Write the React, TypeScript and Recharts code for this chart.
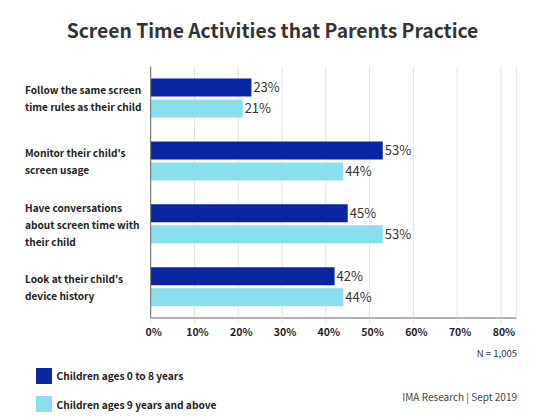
import React from "react";
import {
  BarChart,
  Bar,
  XAxis,
  YAxis,
  CartesianGrid,
  LabelList,
} from "recharts";

const categories: string[][] = [
  ["Follow the same screen", "time rules as their child"],
  ["Monitor their child's", "screen usage"],
  ["Have conversations", "about screen time with", "their child"],
  ["Look at their child's", "device history"],
];
const young: number[] = [23, 53, 45, 42];
const older: number[] = [21, 44, 53, 44];
const xTicks: number[] = [0, 10, 20, 30, 40, 50, 60, 70, 80];
const seriesNames = ["Children ages 0 to 8 years", "Children ages 9 years and above"];

const DARK = "#0a25a1";
const LIGHT = "#8adfee";
const FONT = "'Noto Sans CJK JP', 'Noto Sans', sans-serif";

const data = categories.map((lines, i) => ({
  name: lines.join("\n"),
  young: young[i],
  older: older[i],
}));

const CategoryTick = (props: any) => {
  const { y, payload } = props;
  const lines: string[] = String(payload.value).split("\n");
  const lh = 17;
  const start = y - ((lines.length - 1) * lh) / 2;
  return (
    <text
      x={25}
      y={start}
      fill="#222"
      fontSize={10.1}
      fontWeight={700}
      fontFamily={FONT}
      dominantBaseline="central"
    >
      {lines.map((l, i) => (
        <tspan key={i} x={25} y={start + i * lh}>
          {l}
        </tspan>
      ))}
    </text>
  );
};

export default function App() {
  return (
    <div
      style={{
        position: "absolute",
        left: 0,
        top: 0,
        width: 545,
        height: 419,
        background: "#fff",
        fontFamily: FONT,
      }}
    >
      <div
        style={{
          position: "absolute",
          top: 16,
          width: 545,
          textAlign: "center",
          fontSize: 19.3,
          fontWeight: 700,
          color: "#333",
        }}
      >
        Screen Time Activities that Parents Practice
      </div>
      <BarChart
        width={545}
        height={419}
        data={data}
        layout="vertical"
        margin={{ top: 66.5, right: 28.7, bottom: 71, left: 0 }}
        barCategoryGap={12}
        barGap={3}
      >
        <CartesianGrid horizontal={false} stroke="#e4e4e4" />
        <XAxis
          type="number"
          domain={[0, 83.5]}
          ticks={xTicks}
          tickFormatter={(v) => `${v}%`}
          height={30}
          axisLine={{ stroke: "#666" }}
          tickLine={{ stroke: "#ddd" }}
          tickSize={5}
          tickMargin={6}
          tick={{ fill: "#222", fontSize: 10.5, fontWeight: 700, fontFamily: FONT, dx: 3 }}
          allowDataOverflow
        />
        <YAxis
          yAxisId="a0"
          type="number"
          domain={[0, 4]}
          ticks={[0, 1, 2, 3, 4]}
          width={8}
          tickSize={8}
          tick={false}
          axisLine={{ stroke: "#666" }}
          tickLine={{ stroke: "#bbb" }}
          allowDataOverflow
        />
        <YAxis
          yAxisId="b1"
          type="category"
          dataKey="name"
          width={142.7}
          axisLine={false}
          tickLine={false}
          tick={<CategoryTick />}
        />
        <Bar yAxisId="b1" dataKey="young" fill={DARK} barSize={18} isAnimationActive={false}>
          <LabelList
            dataKey="young"
            position="right"
            offset={2}
            formatter={(v: any) => `${v}%`}
            style={{ fill: "#333", fontSize: 13, fontFamily: FONT }}
          />
        </Bar>
        <Bar yAxisId="b1" dataKey="older" fill={LIGHT} barSize={18} isAnimationActive={false}>
          <LabelList
            dataKey="older"
            position="right"
            offset={2}
            formatter={(v: any) => `${v}%`}
            style={{ fill: "#333", fontSize: 13, fontFamily: FONT }}
          />
        </Bar>
      </BarChart>
      <div style={{ position: "absolute", left: 36, top: 367.5 }}>
        {seriesNames.map((n, i) => (
          <div
            key={n}
            style={{ display: "flex", alignItems: "center", height: 16, marginBottom: 12.5 }}
          >
            <span
              style={{
                width: 15.5,
                height: 16,
                background: i === 0 ? DARK : LIGHT,
                display: "inline-block",
                marginRight: 5,
              }}
            />
            <span style={{ fontSize: 10.2, fontWeight: 700, color: "#222" }}>{n}</span>
          </div>
        ))}
      </div>
      <div
        style={{
          position: "absolute",
          right: 28,
          top: 346,
          fontSize: 9.5,
          color: "#333",
        }}
      >
        N = 1,005
      </div>
      <div
        style={{
          position: "absolute",
          right: 28,
          top: 389,
          fontSize: 10,
          color: "#444",
        }}
      >
        IMA Research | Sept 2019
      </div>
    </div>
  );
}
